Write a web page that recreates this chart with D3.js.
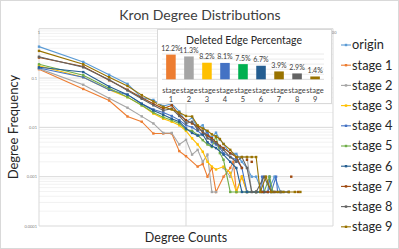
<!DOCTYPE html>
<head>
  <title>Kron Degree Distributions</title>
  <style>
    body { margin: 0; background: #fff; }
    svg { display: block; font-family: Lato, "Liberation Sans", sans-serif; }
  </style>
</head>
<body>
  <script src="https://d3js.org/d3.v7.min.js"></script>
  <script>
    // series names + colours (Excel palette)
    var seriesNames = ["origin", "stage 1", "stage 2", "stage 3", "stage 4", "stage 5", "stage 6", "stage 7", "stage 8", "stage 9"];
    var seriesColors = ["#5B9BD5", "#ED7D31", "#A5A5A5", "#FFC000", "#4472C4", "#70AD47", "#255E91", "#9E480E", "#636363", "#997300"];

    // [degree, frequency], null = no nodes with that degree
    var origin = [[1,.433],[2,.212],[3,.116],[4,.076],[5,.04],[6,.036],[7,.027],[8,.03],[9,.021],[10,.013],[11,.0157],[12,.0098],[13,.011],[14,.0071],[15,.0063],[16,.0078],[17,.0056],[18,.0046],[20,.0029],[21,.0029],[22,.0029],[24,.002],[26,.0015],[28,.001],[30,.001],[33,.00049],[36,.00049],[40,.001],[44,.00049]];
    var stage1 = [[1,.151],[2,.06],[3,.035],[4,.0166],[5,.013],[6,.0075],[7,.0075],[8,.0075],[9,.0033],[10,.0026],[12,.0016],[13,.0018],[14,.001],[15,.0015],[16,.00049],[18,.001],[20,.0015],[21,.002],[22,.00049],[24,.001],[26,.00049],[30,.00049]];
    var stage2 = [[1,.155],[2,.073],[3,.039],[4,.025],[5,.0167],[6,.012],[7,.0077],[8,.0077],[9,.0045],[10,.0056],[11,.0028],[12,.0035],[13,.002],[14,.0028],[15,.00049],[16,.00049],[17,null],[18,.0015],[20,.001],[22,.0025],[26,.0025],[28,.00049],[30,.00049],[34,.00049]];
    var stage3 = [[1,.178],[2,.104],[3,.058],[4,.041],[5,.028],[6,.019],[7,.015],[8,.013],[9,.011],[10,.0085],[11,.006],[12,.0045],[13,.0032],[14,.002],[15,.0016],[16,.0014],[18,.0016],[20,.0012],[22,.00049],[24,.001],[26,.00049],[30,.00049]];
    var stage4 = [[1,.16],[2,.104],[3,.058],[4,.046],[5,.03],[6,.023],[7,.02],[8,.017],[9,.014],[10,.011],[11,.01],[12,.0085],[13,.007],[14,.008],[15,.005],[16,.0045],[17,.0038],[18,.003],[20,.0025],[22,.0022],[24,.0015],[26,.00049],[30,.00049],[32,.00049],[33,.001],[34,.00049],[36,.00049],[37,.001],[38,.00049],[41,.001],[42,.00049],[46,.00049],[50,.00049]];
    var stage5 = [[1,.19],[2,.114],[3,.062],[4,.041],[5,.028],[6,.02],[7,.016],[8,.014],[9,.012],[10,.009],[11,.0085],[12,.007],[13,.0055],[14,.0045],[15,.004],[16,.0066],[17,.003],[18,.0022],[20,.00049],[22,.00049],[26,.00049],[30,.00049],[34,.00049],[37,.001],[39,.00049],[44,.00049]];
    var stage6 = [[1,.165],[2,.132],[3,.067],[4,.046],[5,.03],[6,.022],[7,.018],[8,.015],[9,.013],[10,.0095],[11,.0077],[12,.0068],[13,.0072],[14,.005],[15,.0042],[16,.0038],[18,.0028],[20,.002],[22,.0015],[24,.00049],[26,.00049],[30,.00049],[34,.00049],[40,.00049]];
    var stage7 = [[1,.26],[2,.171],[3,.09],[4,.058],[5,.04],[6,.03],[7,.024],[8,.028],[9,.018],[10,.014],[11,.012],[12,.0105],[13,.008],[14,.0068],[15,.006],[16,.005],[17,.0042],[18,.0038],[20,.003],[22,.0025],[24,.0015],[25,null],[26,.0022],[27,null],[28,.002],[29,null],[33,.00049],[36,.00049],[40,.00049],[44,.00049],[48,null],[52,.001],[55,null],[58,.00049]];
    var stage8 = [[1,.27],[2,.165],[3,.092],[4,.056],[5,.038],[6,.028],[7,.022],[8,.024],[9,.017],[10,.012],[11,.013],[12,.009],[13,.0085],[14,.006],[15,.0055],[16,.0048],[18,.0035],[20,.0025],[22,.002],[24,.0025],[26,.0015],[28,.00049],[30,.00049],[34,.001],[38,.00049],[44,.00049],[50,.00049]];
    var stage9 = [[1,.355],[2,.19],[3,.104],[4,.069],[5,.045],[6,.0335],[7,.026],[8,.023],[9,.02],[10,.017],[11,.0166],[12,.011],[13,.0095],[14,.0085],[15,.0072],[16,.0065],[17,.0058],[18,.0046],[20,.0035],[22,.0025],[24,.0025],[26,.0025],[28,.0025],[30,.0025],[32,.00049],[35,.001],[38,.00049],[42,.00049],[46,.00049],[50,.00049],[55,.00049],[60,.00049]];
    var allSeries = [origin, stage1, stage2, stage3, stage4, stage5, stage6, stage7, stage8, stage9];

    // inset bar chart
    var stageLabels = ["1", "2", "3", "4", "5", "6", "7", "8", "9"];
    var deletedPct = [12.2, 11.3, 8.2, 8.1, 7.5, 6.7, 3.9, 2.9, 1.4];
    var barColors = ["#ED7D31", "#A5A5A5", "#FFC000", "#4472C4", "#00B050", "#255E91", "#997300", "#636363", "#997300"];

    var yTicks = [0.1, 0.01, 0.001, 0.0001];
    var xTicks = [1, 10, 100];

    var W = 399, H = 249;
    var svg = d3.select("body").append("svg").attr("width", W).attr("height", H);

    // chart border
    svg.append("rect").attr("x", 0.5).attr("y", 0.5).attr("width", W - 1).attr("height", H - 1)
      .attr("fill", "#fff").attr("stroke", "#d9d9d9");

    var x = d3.scaleLog().domain([1, 100]).range([39, 333]);
    var y = d3.scaleLog().domain([0.0001, 1]).range([226, 28.7]);

    // minor gridlines
    var minor = [];
    [0.0001, 0.001, 0.01, 0.1].forEach(function(d) {
      for (var k = 2; k < 10; k++) minor.push(d * k);
    });
    svg.append("g").selectAll("line").data(minor).enter().append("line")
      .attr("x1", x(1)).attr("x2", x(100))
      .attr("y1", d => y(d)).attr("y2", d => y(d))
      .attr("stroke", "#efefef").attr("stroke-width", 0.8);

    // major gridlines
    svg.append("g").selectAll("line").data([1, 0.1, 0.01, 0.001, 0.0001]).enter().append("line")
      .attr("x1", x(1)).attr("x2", x(100))
      .attr("y1", d => y(d)).attr("y2", d => y(d))
      .attr("stroke", "#d9d9d9").attr("stroke-width", 1);
    svg.append("g").selectAll("line").data(xTicks).enter().append("line")
      .attr("x1", d => x(d)).attr("x2", d => x(d))
      .attr("y1", y(1)).attr("y2", y(0.0001))
      .attr("stroke", "#d9d9d9").attr("stroke-width", 1);

    // tiny tick labels
    svg.append("g").selectAll("text").data(yTicks).enter().append("text")
      .attr("x", 37).attr("y", d => y(d) + 1.5)
      .attr("text-anchor", "end").attr("font-size", 4).attr("fill", "#808080")
      .text(d => d);
    svg.append("g").selectAll("text").data(xTicks).enter().append("text")
      .attr("x", d => x(d)).attr("y", y(1) + 5)
      .attr("text-anchor", "middle").attr("font-size", 4).attr("fill", "#808080")
      .text(d => d);

    // lines
    var line = d3.line()
      .defined(d => d[1] != null)
      .x(d => x(d[0]))
      .y(d => y(d[1]));

    allSeries.forEach(function(s, i) {
      var g = svg.append("g");
      g.append("path").datum(s)
        .attr("d", line)
        .attr("fill", "none")
        .attr("stroke", seriesColors[i])
        .attr("stroke-width", 1.1);
      g.selectAll("rect").data(s.filter(d => d[1] != null)).enter().append("rect")
        .attr("x", d => x(d[0]) - 1.2).attr("y", d => y(d[1]) - 1.2)
        .attr("width", 2.4).attr("height", 2.4)
        .attr("fill", seriesColors[i]);
    });

    // titles
    svg.append("text").attr("x", 200).attr("y", 20)
      .attr("text-anchor", "middle").attr("font-size", 14).attr("fill", "#404040")
      .text("Kron Degree Distributions");
    svg.append("text").attr("transform", "translate(18,127) rotate(-90)")
      .attr("text-anchor", "middle").attr("font-size", 13).attr("fill", "#262626")
      .text("Degree Frequency");
    svg.append("text").attr("x", 186).attr("y", 242)
      .attr("text-anchor", "middle").attr("font-size", 12.5).attr("fill", "#262626")
      .text("Degree Counts");

    // legend
    var legend = svg.selectAll(".legend").data(seriesNames).enter().append("g")
      .attr("class", "legend")
      .attr("transform", function(d, i) { return "translate(341," + (45 + 20.2 * i) + ")"; });
    legend.append("line").attr("x1", 0).attr("x2", 10).attr("y1", 0).attr("y2", 0)
      .attr("stroke", (d, i) => seriesColors[i]).attr("stroke-width", 1.1);
    legend.append("rect").attr("x", 3.8).attr("y", -1.2).attr("width", 2.4).attr("height", 2.4)
      .attr("fill", (d, i) => seriesColors[i]);
    legend.append("text").attr("x", 11).attr("y", 4.3)
      .attr("font-size", 12.8).attr("fill", "#262626")
      .text(d => d);

    // inset chart
    var inset = svg.append("g");
    inset.append("rect").attr("x", 157.5).attr("y", 29.5).attr("width", 174).attr("height", 74)
      .attr("fill", "#fff").attr("stroke", "#d9d9d9");
    inset.append("text").attr("x", 244).attr("y", 44)
      .attr("text-anchor", "middle").attr("font-size", 10.5).attr("fill", "#262626")
      .text("Deleted Edge Percentage");

    var bx = d3.scaleBand().domain(stageLabels).range([162, 324]).paddingInner(0.47).paddingOuter(0.23);
    var by = d3.scaleLinear().domain([0, 14]).range([79.3, 79.3 - 28.3]);

    inset.append("g").selectAll("line").data([2.5, 5, 7.5, 10, 12.5]).enter().append("line")
      .attr("x1", 162).attr("x2", 324)
      .attr("y1", d => by(d)).attr("y2", d => by(d))
      .attr("stroke", "#e6e6e6").attr("stroke-width", 0.8);
    inset.append("line").attr("x1", 162).attr("x2", 324)
      .attr("y1", by(0)).attr("y2", by(0)).attr("stroke", "#d9d9d9");

    inset.selectAll(".bar").data(deletedPct).enter().append("rect")
      .attr("class", "bar")
      .attr("x", (d, i) => bx(stageLabels[i]))
      .attr("y", d => by(d))
      .attr("width", bx.bandwidth())
      .attr("height", d => by(0) - by(d))
      .attr("fill", (d, i) => barColors[i]);

    inset.selectAll(".val").data(deletedPct).enter().append("text")
      .attr("class", "val")
      .attr("x", (d, i) => bx(stageLabels[i]) + bx.bandwidth() / 2)
      .attr("y", d => by(d) - 3.5)
      .attr("text-anchor", "middle").attr("font-size", 7).attr("fill", "#404040")
      .text(d => d + "%");

    var cat = inset.selectAll(".cat").data(stageLabels).enter().append("text")
      .attr("class", "cat")
      .attr("text-anchor", "middle").attr("font-size", 7.5).attr("fill", "#404040");
    cat.append("tspan").attr("x", d => bx(d) + bx.bandwidth() / 2).attr("y", 93).text("stage");
    cat.append("tspan").attr("x", d => bx(d) + bx.bandwidth() / 2).attr("y", 101.5).text(d => d);
  </script>
</body>
</html>
